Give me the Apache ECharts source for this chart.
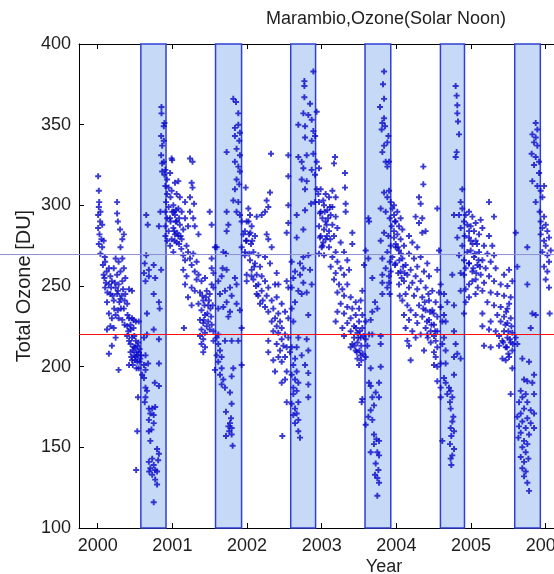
<!DOCTYPE html>
<html>
<head>
<meta charset="utf-8">
<script src="https://cdn.jsdelivr.net/npm/echarts@6/dist/echarts.min.js"></script>
<style>
  html, body { margin: 0; padding: 0; background: #fff; }
  #chart { width: 554px; height: 574px; }
</style>
</head>
<body>
<div id="chart"></div>
<script>
// Daily total ozone at Marambio (solar noon), grouped by year.
// Each pair is [fraction of the year, total ozone in DU].
const oz2000 = [
  [0.006,318],[0.015,309],[0.02,302],[0.015,299],[0.037,296],[0.006,294],[0.033,290],[0.06,288],[0.006,286],[0.024,282],
  [0.05,279],[0.08,278],[0.015,276],[0.06,274],[0.037,270],[0.095,268],[0.10,265],[0.07,263],[0.15,261],[0.12,259],
  [0.08,257],[0.17,256],[0.215,261],[0.24,267],[0.28,265],[0.33,267],[0.35,261],[0.305,259],[0.26,257],[0.19,253],
  [0.15,251],[0.10,249],[0.24,249],[0.28,251],[0.33,253],[0.37,255],[0.17,245],[0.125,240],[0.215,241],[0.26,245],
  [0.305,242],[0.37,245],[0.42,248],[0.46,247],[0.395,239],[0.35,236],[0.15,233],[0.19,230],[0.24,232],[0.28,230],
  [0.33,229],[0.42,230],[0.46,230],[0.51,228],[0.55,228],[0.17,225],[0.125,223],[0.215,224],[0.395,225],[0.44,223],
  [0.48,224],[0.24,218],[0.19,213],[0.15,208],[0.395,219],[0.42,216],[0.46,218],[0.51,216],[0.53,213],[0.48,212],
  [0.44,209],[0.55,209],[0.51,206],[0.46,204],[0.53,203],[0.57,205],[0.42,201],[0.55,199],[0.28,198],[0.595,195],
  [0.54,181],[0.53,160],[0.515,136],[0.62,218],[0.66,220],[0.64,207],[0.675,202],
  [0.26,302],[0.26,295],[0.27,290],[0.30,285],[0.35,282],[0.305,274],[0.33,279],
  [0.44,214],[0.47,210],[0.50,212],[0.52,209],[0.49,207],[0.45,206],[0.53,207],[0.56,211],[0.50,204],[0.47,201],
  [0.52,199],[0.56,203],[0.58,207],[0.545,215],[0.49,219],[0.44,226],[0.41,222],[0.48,229],[0.36,226],[0.40,232],
  [0.09,255],[0.11,252],[0.13,246],[0.18,249],[0.20,244],[0.23,252],[0.27,247],[0.29,240],[0.32,244],[0.34,248],
  [0.36,241],[0.31,236],[0.22,236],[0.27,235],
  [0.65,294],[0.67,288],[0.84,296],[0.82,287],[0.65,269],[0.63,264],[0.75,263],[0.685,260],[0.62,258],[0.685,256],
  [0.77,255],[0.64,253],[0.85,260],[0.75,245],[0.82,240],[0.83,236],[0.66,233],[0.75,223],[0.82,217],[0.82,202],
  [0.62,201],[0.64,198],[0.62,193],[0.765,190],[0.82,188],[0.64,187],[0.66,185],[0.64,181],[0.63,178],[0.685,174],
  [0.73,174],[0.77,175],[0.705,171],[0.75,170],[0.685,167],[0.75,165],[0.72,161],[0.685,160],[0.705,154],[0.795,149],
  [0.82,146],[0.73,143],[0.685,141],[0.75,139],[0.705,137],[0.77,136],[0.81,142],[0.73,133],[0.77,130],[0.795,127],
  [0.75,116],[0.795,135],[0.69,135],
  [0.854,361],[0.854,357],[0.894,351],[0.885,349],[0.85,343],[0.885,340],[0.863,337],[0.85,331],[0.885,327],[0.997,328],
  [0.863,326],[0.907,322],[0.894,319],[0.863,321],[0.93,316],[0.907,312],[0.95,311],[0.93,307],[0.975,305],[0.916,302],
  [0.95,299],[0.907,296],[0.997,296],[0.93,292],[0.975,290],[0.907,287],[0.95,284],[0.907,281],[0.93,278]
];
const oz2001 = [
  [-0.01,329],[0.236,329],[0.27,327],[-0.03,320],[0.08,315],[0.035,314],[0.258,314],[0.27,311],[-0.01,309],[0.057,307],
  [0.10,305],[0.236,305],[0.17,302],[0.29,301],[0.013,300],[0.08,298],[0.124,296],[0.236,296],[0.035,294],[-0.03,292],
  [0.17,292],[0.28,292],[0.057,290],[0.10,288],[0.21,287],[0.30,287],[0.013,286],[0.146,285],[0.035,282],[0.08,281],
  [0.35,282],[-0.01,279],[0.124,279],[0.057,277],[-0.03,275],[0.19,275],[0.013,271],[0.146,269],[0.21,271],[0.28,270],
  [0.236,267],[0.17,266],[0.325,265],[0.258,263],[0.146,260],[0.30,259],[0.35,257],[0.19,256],[0.325,254],[0.17,251],
  [0.39,253],[0.437,255],[0.526,251],[0.55,249],[0.258,249],[0.30,247],[0.37,246],[0.46,247],[0.50,245],[0.21,243],
  [0.414,241],[0.35,239],[0.258,238],[0.48,238],[0.39,235],[0.437,232],[0.37,229],[0.414,227],[0.48,228],[0.526,226],
  [0.155,224],[0.39,223],[0.437,221],[0.50,223],[0.55,222],[0.37,219],[0.414,217],[0.39,214],[0.437,212],[0.414,209],
  [0.55,216],[0.526,267],[0.526,261],[0.55,258],[0.50,296],[0.526,288],[0.57,274],
  [0.02,296],[0.045,290],[0.025,284],[0.065,283],[0.09,292],[0.05,297],[0.11,281],[0.09,276],[0.03,278],[0.12,273],
  [0.40,244],[0.43,238],[0.45,243],[0.47,233],[0.49,241],[0.51,236],[0.52,231],[0.54,238],[0.46,225],[0.42,229],
  [0.727,333],[0.816,366],[0.852,364],[0.883,357],[0.838,348],[0.883,350],[0.905,345],[0.838,343],[0.896,340],[0.86,335],
  [0.905,331],[0.838,327],[0.883,324],[0.905,321],[0.86,316],[0.896,313],[0.838,310],[0.816,303],[0.883,302],[0.86,296],
  [0.905,294],[0.928,290],[0.95,282],[0.986,278],[0.928,274],[0.97,269],[0.995,253],[0.727,296],[0.75,288],[0.727,284],
  [0.682,271],[0.718,270],[0.593,274],[0.673,261],[0.727,260],[0.66,256],[0.615,253],[0.838,255],[0.86,251],[0.772,249],
  [0.705,247],[0.638,245],[0.794,244],[0.727,240],[0.86,239],[0.682,237],[0.615,236],[0.772,234],[0.905,235],[0.75,231],
  [0.928,224],[0.615,220],[0.593,218],[0.705,216],[0.794,216],[0.883,216],[0.615,214],[0.638,210],[0.593,207],[0.66,206],
  [0.615,203],[0.928,201],[0.57,198],[0.66,199],[0.816,199],[0.638,195],[0.794,194],[0.682,192],[0.66,189],[0.705,187],
  [0.772,184],[0.794,177],[0.718,172],[0.785,168],[0.772,165],[0.75,163],[0.794,162],[0.718,157],[0.794,158],[0.807,151],
  [0.762,160]
];
const oz2002 = [
  [0.321,332],[0.308,308],[0.263,303],[0.285,299],[0.241,296],[0.196,294],[-0.018,311],[0.018,298],[0.04,294],[0.129,293],
  [-0.005,290],[0.062,287],[-0.027,284],[0.027,282],[0.107,281],[0.263,282],[0.285,279],[-0.005,278],[0.053,276],[0.33,274],
  [-0.027,271],[0.085,271],[0.152,269],[0.241,268],[0.04,266],[0.107,264],[0.308,264],[0.174,262],[0.062,260],[-0.005,257],
  [0.129,257],[0.397,258],[0.196,256],[0.085,254],[0.241,253],[0.152,251],[0.375,251],[0.42,251],[0.285,249],[0.196,247],
  [0.531,253],[0.553,249],[0.129,245],[0.263,244],[0.33,241],[0.397,243],[0.174,239],[0.464,239],[0.241,237],[0.352,236],
  [0.285,234],[0.419,233],[0.509,234],[0.375,230],[0.33,228],[0.442,228],[0.553,230],[0.397,225],[0.464,224],[0.352,222],
  [0.419,221],[0.509,220],[0.553,218],[0.464,217],[0.285,216],[0.397,214],[0.487,213],[0.531,212],[0.442,210],[0.285,209],
  [0.575,209],[0.42,206],[0.509,206],[0.352,204],[0.464,203],[0.375,197],[0.531,197],[0.509,192],[0.464,190],[0.531,178],
  [0.473,157],[0.553,318],[0.553,331],[0.531,283],[0.553,300],[0.553,289],
  [0.02,290],[0.045,283],[0.07,278],[0.03,270],[0.095,262],[0.06,256],[0.12,250],[0.15,244],[0.21,241],
  [0.888,383],[0.768,377],[0.768,374],[0.768,367],[0.844,363],[0.754,357],[0.821,356],[0.933,358],[0.866,353],[0.687,350],
  [0.777,349],[0.888,346],[0.911,343],[0.777,342],[0.866,340],[0.687,330],[0.799,331],[0.888,332],[0.732,327],[0.933,327],
  [0.754,323],[0.866,322],[0.911,319],[0.732,316],[0.799,315],[0.777,310],[0.933,310],[0.955,307],[0.911,302],[0.857,301],
  [0.777,297],[0.665,294],[0.977,295],[0.665,280],[0.754,285],[0.977,280],[1.0,274],[0.821,269],[0.754,268],[0.598,265],
  [0.71,264],[0.754,261],[0.643,259],[0.844,260],[0.71,257],[0.62,255],[0.754,252],[0.866,251],[0.598,249],[0.687,247],
  [0.799,246],[0.732,245],[0.643,240],[0.598,236],[0.821,232],[0.62,228],[0.687,218],[0.799,217],[0.598,212],[0.665,212],
  [0.821,210],[0.732,207],[0.643,205],[0.62,201],[0.777,201],[0.665,197],[0.821,196],[0.598,195],[0.643,192],[0.687,190],
  [0.821,189],[0.62,187],[0.665,185],[0.62,183],[0.821,181],[0.687,178],[0.598,177],[0.643,174],[0.665,171],[0.62,170],
  [0.687,167],[0.643,165],[0.687,160],[0.71,156]
];
const oz2003 = [
  [0.178,330],[0.165,326],[0.312,320],[-0.036,323],[0.312,311],[-0.014,310],[0.143,309],[0.053,307],[0.098,305],[0.187,305],
  [-0.036,302],[0.321,301],[0.031,300],[0.143,299],[0.076,297],[-0.014,296],[0.321,296],[0.12,294],[0.187,293],[0.009,292],
  [0.053,290],[0.143,288],[-0.036,287],[0.21,286],[0.031,285],[0.098,284],[0.41,283],[-0.014,281],[0.165,281],[0.053,279],
  [0.254,277],[0.41,276],[0.009,275],[0.098,274],[-0.036,270],[0.187,271],[0.299,271],[0.031,269],[0.143,268],[0.21,265],
  [0.343,266],[0.12,262],[0.254,261],[0.366,260],[0.187,258],[0.299,257],[0.165,254],[0.232,251],[0.343,251],[0.277,248],
  [0.21,246],[0.544,247],[0.522,241],[0.299,244],[0.388,243],[0.455,240],[0.254,239],[0.343,237],[0.41,236],[0.50,236],
  [0.21,234],[0.299,233],[0.455,232],[0.544,232],[0.388,230],[0.187,228],[0.343,227],[0.50,228],[0.589,228],[0.433,225],
  [0.277,224],[0.544,224],[0.388,222],[0.478,221],[0.299,219],[0.634,220],[0.433,218],[0.522,218],[0.589,217],[0.678,220],
  [0.79,219],[0.41,214],[0.478,215],[0.388,212],[0.611,213],[0.455,210],[0.522,207],[0.589,206],[0.478,205],[0.50,201],
  [0.79,214],[0.625,267],[0.589,272],[0.634,290],[0.625,292],[0.567,263],[0.678,255],[0.714,240],[0.745,236],[0.678,234],
  [0.656,229],
  [0.46,224],[0.49,218],[0.51,222],[0.53,213],[0.47,209],[0.44,213],[0.56,219],[0.505,210],[0.53,204],[0.55,208],
  [0.02,303],[0.04,296],[0.065,288],[0.085,292],[0.11,299],[0.07,281],[0.02,277],[0.115,279],
  [0.656,199],[0.79,200],[0.634,190],[0.768,190],[0.656,188],[0.723,184],[0.678,181],[0.544,180],[0.535,178],[0.768,181],
  [0.70,176],[0.656,173],[0.625,169],[0.678,167],[0.589,164],[0.70,158],[0.732,155],[0.768,154],[0.656,147],[0.745,147],
  [0.70,152],[0.768,145],[0.723,140],[0.759,136],[0.714,133],[0.745,131],[0.768,128],[0.745,120],
  [0.835,383],[0.821,375],[0.835,366],[0.781,361],[0.835,354],[0.812,351],[0.848,349],[0.803,347],[0.893,343],[0.879,339],
  [0.835,337],[0.812,333],[0.857,327],[0.902,327],[0.879,324],[0.835,308],[0.902,309],[0.879,305],[0.924,302],[0.79,298],
  [0.857,296],[0.946,298],[0.969,294],[0.911,292],[0.982,290],[0.937,287],[0.835,283],[0.893,281],[0.969,280],[0.79,278],
  [0.924,275],[0.991,274],[0.879,271],[0.946,268],[0.812,267],[0.911,265],[0.982,263],[0.857,261],[0.924,259],[0.812,257],
  [0.902,256],[0.812,252],[0.902,252],[0.879,249],[0.812,245],[0.911,245]
];
const oz2004 = [
  [0.361,324],[0.361,313],[0.303,305],[0.325,301],[0.258,293],[0.347,292],[0.303,289],[0.548,298],[-0.032,300],[0.013,296],
  [0.057,292],[-0.01,290],[0.035,287],[0.08,285],[-0.032,284],[0.013,282],[0.169,281],[0.347,283],[0.392,284],[0.057,279],
  [0.214,277],[-0.01,276],[0.102,275],[0.28,274],[0.571,272],[0.035,272],[0.169,270],[0.236,267],[0.325,268],[0.08,267],
  [0.414,264],[-0.013,264],[0.124,263],[0.28,262],[0.191,260],[0.057,259],[0.37,259],[0.548,260],[0.147,257],[0.258,256],
  [0.437,256],[0.035,251],[0.102,253],[0.214,252],[0.325,253],[0.593,251],[0.169,249],[0.28,248],[0.392,249],[0.481,247],
  [0.571,246],[0.124,245],[0.236,244],[0.347,243],[0.437,241],[0.526,240],[0.147,238],[0.303,238],[0.593,237],[0.191,235],
  [0.392,235],[0.481,235],[0.102,232],[0.258,232],[0.347,231],[0.548,231],[0.169,229],[0.437,229],[0.615,228],[0.28,227],
  [0.504,226],[0.124,224],[0.392,224],[0.214,222],[0.459,222],[0.548,222],[0.325,220],[0.504,219],[0.258,218],[0.147,216],
  [0.526,216],[0.414,220],[0.169,213],[0.548,212],[0.37,210],[0.504,209],[0.191,204],[0.526,206],[0.548,200],[0.504,201],
  [0.02,274],[0.04,266],[0.06,270],[0.09,262],[0.025,258],[0.07,255],[0.11,258],[0.045,244],[0.08,241],
  [0.36,236],[0.41,228],[0.45,234],[0.47,226],[0.50,233],[0.42,218],[0.46,215],[0.52,222],[0.38,240],[0.43,245],
  [0.794,374],[0.807,368],[0.816,362],[0.816,357],[0.825,352],[0.839,344],[0.807,333],[0.794,330],[0.883,310],[0.861,302],
  [0.883,298],[0.772,294],[0.839,294],[0.928,294],[0.906,290],[0.95,288],[0.861,286],[0.973,284],[0.915,281],[0.816,280],
  [0.995,278],[0.883,275],[0.95,271],[0.839,269],[0.906,266],[0.973,264],[0.928,261],[0.861,258],[0.749,257],[0.906,257],
  [0.973,251],[0.928,248],[0.861,247],[1.017,253],[0.928,240],[0.906,233],[0.772,238],
  [0.638,245],[0.682,240],[0.638,232],[0.66,228],[0.772,222],[0.638,218],[0.615,214],[0.794,214],[0.66,210],[0.816,208],
  [0.772,206],[0.861,205],[0.593,202],[0.66,202],[0.548,191],[0.772,195],[0.638,193],[0.66,190],[0.705,187],[0.593,187],
  [0.727,185],[0.682,183],[0.749,181],[0.718,178],[0.593,181],[0.727,174],[0.763,169],[0.749,166],[0.727,162],[0.772,160],
  [0.736,157],[0.615,154],[0.718,152],[0.772,149],[0.749,145],[0.727,143],[0.736,139]
];
const oz2005 = [
  [0.241,302],[0.308,293],[-0.027,296],[0.018,293],[0.129,291],[0.062,289],[-0.005,287],[0.152,286],[0.04,284],[0.107,282],
  [0.241,281],[-0.027,280],[0.062,278],[0.174,275],[0.285,275],[-0.005,272],[0.107,271],[0.219,270],[0.308,269],[0.04,268],
  [0.152,266],[0.263,265],[-0.027,264],[0.085,263],[0.196,261],[0.33,261],[0.509,260],[0.018,259],[0.129,257],[0.241,256],
  [0.442,257],[0.062,254],[0.174,252],[0.308,253],[0.397,251],[0.487,250],[0.553,253],[0.152,247],[0.263,246],[0.352,245],
  [0.442,244],[0.531,243],[-0.027,243],[0.219,240],[0.308,238],[0.397,237],[0.487,236],[0.152,233],[0.352,232],[0.442,231],
  [0.531,230],[0.263,228],[0.397,228],[0.487,227],[0.152,225],[0.241,223],[0.33,222],[0.442,222],[0.553,221],[0.375,219],
  [0.487,218],[0.598,218],[0.42,216],[0.531,215],[0.174,213],[0.263,212],[0.375,213],[0.464,212],[0.62,214],[0.553,210],
  [0.42,205],[0.464,204],[0.509,206],[0.553,199],[0.531,183],
  [0.02,276],[0.05,270],[0.08,276],[0.10,266],[0.03,261],[0.07,258],[0.12,262],[0.09,249],[0.06,245],
  [0.46,226],[0.50,222],[0.52,217],[0.54,225],[0.48,212],[0.50,208],[0.43,215],[0.56,214],[0.47,234],[0.51,239],
  [0.598,283],[0.754,274],[0.62,262],[0.754,251],[0.821,233],[0.866,232],[0.799,224],[0.687,205],[0.777,203],[0.844,195],
  [0.71,192],[0.754,191],[0.821,190],[0.665,185],[0.732,183],[0.844,183],[0.687,181],[0.643,178],[0.754,178],[0.71,174],
  [0.799,173],[0.665,171],[0.844,171],[0.62,169],[0.754,168],[0.687,166],[0.799,165],[0.643,163],[0.732,162],[0.844,162],
  [0.665,159],[0.777,158],[0.634,156],[0.71,154],[0.754,152],[0.687,150],[0.732,147],[0.665,144],[0.768,143],[0.71,141],
  [0.687,137],[0.732,135],[0.71,132],[0.754,128],[0.777,123],
  [0.866,351],[0.888,347],[0.821,344],[0.866,342],[0.844,339],[0.888,337],[0.812,332],[0.866,330],[0.911,327],[0.844,325],
  [0.911,320],[0.821,315],[0.888,312],[0.978,312],[0.933,309],[0.955,305],[0.866,302],[0.919,296],[0.978,293],[0.933,290],
  [1.0,288],[0.955,286],[1.022,284],[0.933,282],[1.044,280],[0.978,278],[1.0,275],[1.067,272],[0.955,271],[1.022,269],
  [1.044,265],[0.978,262],[1.022,259],[1.0,254],[1.044,249],[1.053,233]
];
const years = [2000, 2001, 2002, 2003, 2004, 2005];
const ozoneByYear = [oz2000, oz2001, oz2002, oz2003, oz2004, oz2005];

// Shaded spring periods (August to November), in decimal years.
const springStart = [2000.578, 2001.578, 2002.585, 2003.580, 2004.590, 2005.585];
const springEnd   = [2000.915, 2001.927, 2002.918, 2003.925, 2004.912, 2005.928];

// Reference levels (DU).
const holeThreshold = 220;
const guideLevel = 269.5;

// Axis ticks.
const yearTicks = [2000, 2001, 2002, 2003, 2004, 2005, 2006];
const ozoneTicks = [100, 150, 200, 250, 300, 350, 400];

const points = [];
years.forEach((yr, i) => {
  ozoneByYear[i].forEach(([f, v]) => points.push([yr + f, v]));
});

const FONT = '"Liberation Sans", Arial, Helvetica, sans-serif';
const TXT = '#1e1e1e';
const PLUS = 'path://M3.4,0H6.6V3.4H10V6.6H6.6V10H3.4V6.6H0V3.4H3.4Z';

const chart = echarts.init(document.getElementById('chart'), null, { renderer: 'canvas' });

const xCommon = {
  type: 'value',
  min: 1999.7496,
  max: 2006.111,
  splitLine: { show: false },
  axisLine: { show: true, onZero: false, lineStyle: { color: '#000', width: 1 } },
  axisTick: { show: true, inside: true, length: 5, customValues: yearTicks, lineStyle: { color: '#000' } }
};

chart.setOption({
  animation: false,
  backgroundColor: '#fff',
  grid: { left: 79, right: 0, top: 44, bottom: 46, outerBoundsMode: 'none', containLabel: false },
  xAxis: [
    Object.assign({}, xCommon, {
      position: 'bottom',
      axisLabel: {
        show: true, customValues: yearTicks, margin: 9, fontSize: 18, fontFamily: FONT, color: TXT,
        formatter: (v) => String(Math.round(v))
      }
    }),
    Object.assign({}, xCommon, {
      position: 'top',
      axisLabel: { show: false }
    })
  ],
  yAxis: {
    type: 'value',
    min: ozoneTicks[0],
    max: ozoneTicks[ozoneTicks.length - 1],
    interval: 50,
    splitLine: { show: false },
    axisLine: { show: true, onZero: false, lineStyle: { color: '#000', width: 1 } },
    axisTick: { show: true, inside: true, length: 5, lineStyle: { color: '#000' } },
    axisLabel: { margin: 8, fontSize: 18, fontFamily: FONT, color: TXT }
  },
  series: [
    {
      type: 'line',
      data: [],
      z: 1,
      silent: true,
      markArea: {
        silent: true,
        itemStyle: { color: '#c6d9f7', borderColor: '#3040d2', borderWidth: 1.5 },
        data: springStart.map((s, i) => [{ xAxis: s }, { xAxis: springEnd[i] }])
      }
    },
    {
      type: 'line',
      data: [],
      z: 2,
      silent: true,
      markLine: {
        silent: true,
        symbol: ['none', 'none'],
        label: { show: false },
        lineStyle: { color: '#ff1010', type: 'solid', width: 1 },
        data: [{ yAxis: holeThreshold }]
      }
    },
    {
      type: 'scatter',
      z: 3,
      symbol: PLUS,
      symbolSize: 6,
      itemStyle: { color: '#0808c8' },
      data: points,
      clip: true
    }
  ]
});

// Thin horizontal guide across the full figure width, and the text labels.
const gy = chart.convertToPixel({ yAxisIndex: 0 }, guideLevel);
chart.setOption({
  graphic: [
    {
      type: 'line',
      silent: true,
      z: 10,
      shape: { x1: 0, y1: gy, x2: 554, y2: gy },
      style: { stroke: '#8e8ed4', lineWidth: 1 }
    },
    {
      type: 'text',
      x: 386, y: 19,
      style: { text: 'Marambio,Ozone(Solar Noon)', font: '18px ' + FONT, fill: TXT, align: 'center', verticalAlign: 'middle' }
    },
    {
      type: 'text',
      x: 384, y: 576,
      style: { text: 'Year', font: '18px ' + FONT, fill: TXT, align: 'center', verticalAlign: 'bottom' }
    },
    {
      type: 'text',
      x: 24, y: 286,
      rotation: Math.PI / 2,
      style: { text: 'Total Ozone [DU]', font: '20px ' + FONT, fill: TXT, align: 'center', verticalAlign: 'middle' }
    }
  ]
});
</script>
</body>
</html>
